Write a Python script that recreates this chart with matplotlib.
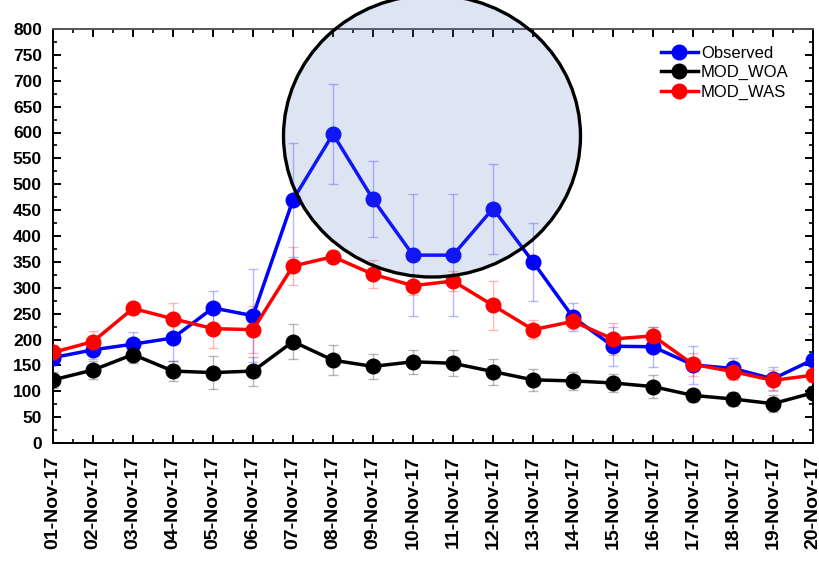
import matplotlib
matplotlib.use("Agg")
import matplotlib.pyplot as plt
from matplotlib.patches import Ellipse
from matplotlib.ticker import MultipleLocator
import numpy as np

plt.rcParams['font.family'] = ['Liberation Sans', 'DejaVu Sans']

dates = ["01-Nov-17", "02-Nov-17", "03-Nov-17", "04-Nov-17", "05-Nov-17",
         "06-Nov-17", "07-Nov-17", "08-Nov-17", "09-Nov-17", "10-Nov-17",
         "11-Nov-17", "12-Nov-17", "13-Nov-17", "14-Nov-17", "15-Nov-17",
         "16-Nov-17", "17-Nov-17", "18-Nov-17", "19-Nov-17", "20-Nov-17"]

observed = [165, 180, 191, 203, 261, 246, 470, 597, 471, 363,
            363, 453, 350, 243, 187, 186, 151, 144, 124, 161]
observed_err = [15, 18, 23, 45, 32, 90, 110, 96, 73, 118,
                118, 87, 75, 27, 38, 39, 37, 20, 22, 50]

mod_woa = [122, 141, 171, 139, 136, 139, 196, 160, 148, 157,
           154, 138, 122, 120, 116, 109, 92, 85, 76, 97]
mod_woa_err = [15, 17, 17, 19, 32, 28, 34, 29, 24, 23,
               25, 25, 21, 17, 18, 22, 13, 13, 16, 20]

mod_was = [175, 196, 260, 240, 221, 219, 342, 360, 326, 304,
           313, 266, 219, 235, 201, 207, 152, 138, 121, 131]
mod_was_err = [15, 20, 12, 30, 38, 45, 37, 12, 27, 18,
               20, 47, 18, 15, 30, 18, 22, 16, 20, 20]

x = np.arange(len(dates))

fig = plt.figure(figsize=(8.2, 5.63), dpi=100)
ax = fig.add_axes([53 / 820, 1 - 443 / 563, 760 / 820, 414 / 563])

series = [
    ("Observed", observed, observed_err, "#0000ff"),
    ("MOD_WOA", mod_woa, mod_woa_err, "#000000"),
    ("MOD_WAS", mod_was, mod_was_err, "#ff0000"),
]
for name, vals, err, col in series:
    ax.errorbar(x, vals, yerr=err, fmt="none", ecolor=col, elinewidth=1,
                capsize=3.6, alpha=0.28, zorder=2)
for name, vals, err, col in series:
    ax.plot(x, vals, color=col, lw=2.5, marker="o", ms=10.5, label=name, zorder=3)

ax.set_xlim(0, 19)
ax.set_ylim(0, 800)
ax.set_xticks(x)
ax.set_xticklabels(dates, rotation=90, fontsize=14, fontweight="bold")
ax.xaxis.set_minor_locator(MultipleLocator(0.5))
ax.yaxis.set_major_locator(MultipleLocator(50))
ax.yaxis.set_minor_locator(MultipleLocator(25))
for lab in ax.get_yticklabels():
    lab.set_fontweight("bold")
    lab.set_fontsize(12.5)
ax.tick_params(which="major", direction="in", length=6, width=1.4,
               top=True, right=True, pad=8)
ax.tick_params(which="minor", direction="in", length=3, width=1.2,
               top=True, right=True)
ax.tick_params(axis="x", which="major", pad=9)
for sp in ax.spines.values():
    sp.set_linewidth(1.4)
ax.spines["top"].set_color("#555555")

ax.legend(loc="upper left", bbox_to_anchor=(661 / 820, 1 - 46 / 563),
          bbox_transform=fig.transFigure, frameon=False, fontsize=12,
          handlelength=2.2, handletextpad=0.2, labelspacing=0.25,
          borderpad=0, borderaxespad=0, markerscale=1.0)

# highlighted region
circ = Ellipse((432 / 820, 1 - 136 / 563), 297 / 820, 282 / 563,
               transform=fig.transFigure, facecolor=(85 / 255, 120 / 255, 190 / 255, 0.2),
               edgecolor="black", lw=2.4, zorder=10)
fig.add_artist(circ)

fig.savefig("out.png", dpi=100)
